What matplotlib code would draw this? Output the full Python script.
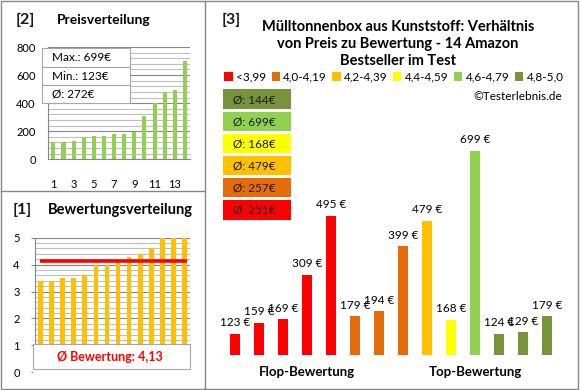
import matplotlib
matplotlib.use("Agg")
import matplotlib.pyplot as plt
from matplotlib.patches import Rectangle, Patch
from matplotlib.lines import Line2D

plt.rcParams['font.family'] = ['Lato', 'DejaVu Sans']

# --- data ---
prices_sorted = [123, 124, 129, 159, 168, 169, 179, 179, 194, 309, 399, 479, 495, 699]
price_ticks = [0, 200, 400, 600, 800]
price_stats = ["Max.: 699€", "Min.: 123€", "Ø: 272€"]

ratings_sorted = [3.4, 3.4, 3.5, 3.5, 3.6, 4.0, 4.0, 4.1, 4.3, 4.4, 4.6, 5.0, 5.0, 5.0]
rating_ticks = [0, 1, 2, 3, 4, 5]
rating_avg = 4.13
rating_text = "Ø Bewertung: 4,13"

bar_prices = [123, 159, 169, 309, 495, 179, 194, 399, 479, 168, 699, 124, 129, 179]
bar_class = [0, 0, 0, 0, 0, 1, 1, 1, 2, 3, 4, 5, 5, 5]
class_labels = ["<3,99", "4,0-4,19", "4,2-4,39", "4,4-4,59", "4,6-4,79", "4,8-5,0"]
class_colors = ["#FF0000", "#E46C0A", "#FFC000", "#FFFF00", "#92D050", "#77933C"]
class_avgs = ["Ø: 251€", "Ø: 257€", "Ø: 479€", "Ø: 168€", "Ø: 699€", "Ø: 144€"]
group_names = ["Flop-Bewertung", "Top-Bewertung"]
title3 = "Mülltonnenbox aus Kunststoff: Verhältnis\nvon Preis zu Bewertung - 14 Amazon\nBestseller im Test"

W, H = 580, 390


def fx(x):
    return x / W


def fy(y):
    return 1 - y / H


def box(l, t, r, b):
    return [fx(l), fy(b), (r - l) / W, (b - t) / H]


def frect(l, t, r, b, **kw):
    fig.add_artist(Rectangle((fx(l), fy(b)), (r - l) / W, (b - t) / H,
                             transform=fig.transFigure, **kw))


fig = plt.figure(figsize=(5.8, 3.9), dpi=100)
border = '#868686'

# panel borders
frect(1, 1, 577.5, 388.5, fill=False, edgecolor=border, lw=1)
fig.add_artist(Line2D([fx(205), fx(205)], [fy(1), fy(388.5)], color=border, lw=1))
fig.add_artist(Line2D([fx(1), fx(205)], [fy(191), fy(191)], color=border, lw=1))

# ---------- [2] Preisverteilung ----------
ax2 = fig.add_axes(box(48.3, 47, 190, 159.3))
x = list(range(1, len(prices_sorted) + 1))
ax2.bar(x, prices_sorted, width=0.4, color='#92D050', zorder=3)
ax2.set_xlim(0.5, 14.5)
ax2.set_ylim(0, 800)
ax2.set_yticks(price_ticks)
ax2.set_yticks(range(0, 801, 40), minor=True)
ax2.set_xticks(x[::2])
ax2.grid(axis='y', which='minor', color='#BFBFBF', lw=0.8)
ax2.grid(axis='y', which='major', color=border, lw=0.8)
ax2.tick_params(which='both', length=0, labelsize=8)
ax2.tick_params(axis='x', pad=14)
ax2.tick_params(axis='y', pad=9)
for s in ['top', 'right']:
    ax2.spines[s].set_visible(False)
for s in ['left', 'bottom']:
    ax2.spines[s].set_color(border)

fig.text(fx(16), fy(20), "[2]", fontsize=11.5, fontweight='bold', va='center', color='#1a1a1a')
fig.text(fx(57), fy(20), "Preisverteilung", fontsize=10, fontweight='bold', va='center')

rows = [48, 67, 85, 103]
for i, s in enumerate(price_stats):
    frect(42, rows[i], 130, rows[i + 1], facecolor='white', edgecolor='#A6A6A6', lw=0.8, zorder=5)
    fig.text(fx(52), fy((rows[i] + rows[i + 1]) / 2), s, fontsize=8.5, va='center', zorder=6)

# ---------- [1] Bewertungsverteilung ----------
ax1 = fig.add_axes(box(35, 237.7, 190, 372.3))
ax1.bar(x, ratings_sorted, width=0.42, color='#FFC000', zorder=3)
ax1.hlines(rating_avg, 0.95, 14.23, color='#FF0000', lw=2.6, zorder=4)
ax1.set_xlim(0.5, 14.5)
ax1.set_ylim(0, 5)
ax1.set_yticks(rating_ticks)
ax1.set_yticks([i * 0.2 for i in range(26)], minor=True)
ax1.set_xticks([])
ax1.grid(axis='y', which='minor', color='#BFBFBF', lw=0.8)
ax1.grid(axis='y', which='major', color=border, lw=0.8)
ax1.get_ygridlines()[0].set_visible(False)
ax1.tick_params(axis='y', which='major', length=3, color=border, labelsize=8, pad=8)
ax1.tick_params(axis='y', which='minor', length=0)
for s in ['top', 'right', 'bottom']:
    ax1.spines[s].set_visible(False)
ax1.spines['left'].set_color(border)

fig.text(fx(13), fy(210), "[1]", fontsize=11.5, fontweight='bold', va='center', color='#1a1a1a')
fig.text(fx(48), fy(210), "Bewertungsverteilung", fontsize=10.5, fontweight='bold', va='center')

frect(33, 344, 190, 373, facecolor='white', edgecolor='none', zorder=5)
frect(33, 344, 190, 369, facecolor='white', edgecolor='#A6A6A6', lw=0.8, zorder=5)
fig.text(fx(110), fy(357), rating_text, fontsize=9, fontweight='bold', color='#FF0000',
         ha='center', va='center', zorder=6)

# ---------- [3] Preis zu Bewertung ----------
ax3 = fig.add_axes(box(223, 118.7, 559, 354.7))
pos = list(range(len(bar_prices)))
ax3.bar(pos, bar_prices, width=0.42, color=[class_colors[c] for c in bar_class])
for p, v in zip(pos, bar_prices):
    ax3.annotate(f"{v} €", (p, v), xytext=(0, 4), textcoords='offset points',
                 ha='center', va='bottom', fontsize=8.5)
ax3.set_xlim(-0.5, 13.5)
ax3.set_ylim(58, 800)
ax3.set_yticks([])
ax3.set_xticks([3, 10])
ax3.set_xticklabels(group_names, fontsize=9.5, fontweight='bold')
ax3.tick_params(axis='x', length=0, pad=8)
for s in ax3.spines.values():
    s.set_visible(False)
ax3.patch.set_alpha(0)

fig.text(fx(222), fy(20), "[3]", fontsize=11.5, fontweight='bold', va='center', color='#1a1a1a')
fig.text(fx(398), fy(44), title3, fontsize=10.5, fontweight='bold', ha='center', va='center',
         linespacing=1.25)

handles = [Patch(facecolor=c) for c in class_colors]
fig.legend(handles, class_labels, ncol=6, loc='center', bbox_to_anchor=(fx(394), fy(77)),
           frameon=False, fontsize=8.5, handlelength=0.7, handleheight=0.7,
           handletextpad=0.3, columnspacing=0.45, borderpad=0)

fig.text(fx(562), fy(97), "©Testerlebnis.de", fontsize=8.5, ha='right', va='center')

for k in range(len(class_avgs)):
    j = len(class_avgs) - 1 - k
    top = 89.5 + 22.1 * k
    frect(223, top, 291, top + 19.5, facecolor=class_colors[j], edgecolor='none')
    fig.text(fx(233), fy(top + 10), class_avgs[j], fontsize=8.5, va='center', color='#1a1a1a')

fig.savefig("out.png", dpi=100)
